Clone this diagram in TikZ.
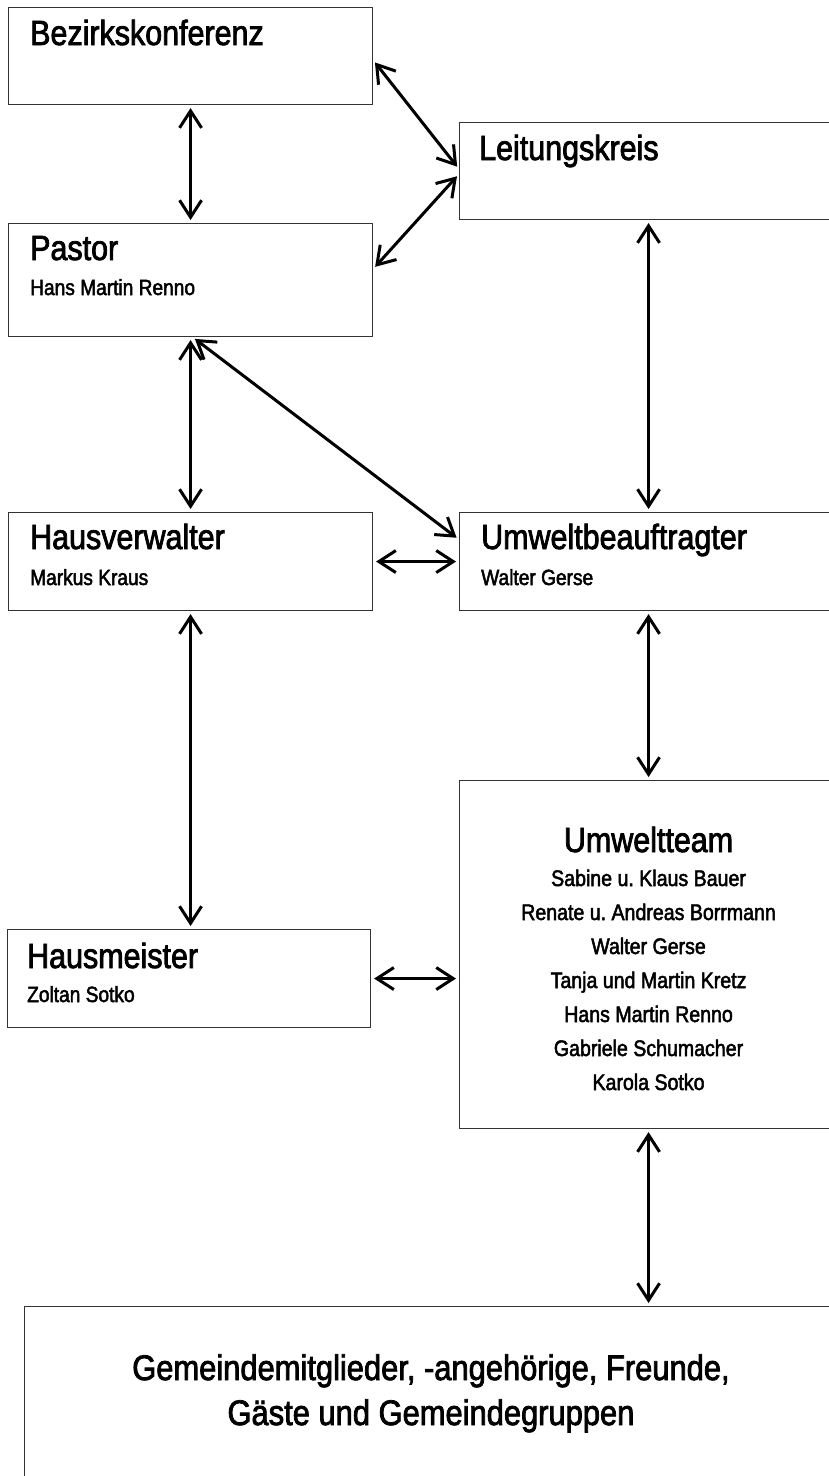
\documentclass[tikz,border=0pt]{standalone}
\usepackage{fontspec}
\setmainfont{Liberation Sans}[FakeStretch=0.87, FakeBold=2.2]
\usepackage{tikz}
\usetikzlibrary{arrows.meta}
\usetikzlibrary{calc}
\frenchspacing

\begin{document}
\begin{tikzpicture}[
            x=1pt, y=-1pt,
            box/.style={draw=black!80, line width=1.1pt, rectangle, anchor=north west, inner sep=0pt},
            title/.style={anchor=base west, inner sep=0pt, font=\fontsize{35}{38}\selectfont},
            person/.style={anchor=base west, inner sep=0pt, font=\fontsize{22}{24}\selectfont},
            member/.style={anchor=base, inner sep=0pt, font=\fontsize{22.5}{24}\selectfont},
            link/.style={{Straight Barb[length=17pt,width=22pt]}-{Straight Barb[length=17pt,width=22pt]},
                line width=3pt, line join=round, shorten <=3pt, shorten >=3pt},
        ]
            \useasboundingbox (0,0) rectangle (829,1476);
            \clip (0,0) rectangle (829,1476);

            % --- Kaesten ---
            \node[box, minimum width=364pt, minimum height=97pt] (bezirk) at (8,7) {};
            \node[box, minimum width=364pt, minimum height=113pt] (pastor) at (8,223) {};
            \node[box, minimum width=378pt, minimum height=97pt] (leitung) at (459,122) {};
            \node[box, minimum width=364pt, minimum height=98pt] (hausv) at (8,512) {};
            \node[box, minimum width=378pt, minimum height=98pt] (umwb) at (459,512) {};
            \node[box, minimum width=363pt, minimum height=98pt] (hausm) at (7,929) {};
            \node[box, minimum width=378pt, minimum height=348pt] (team) at (459,780) {};
            \node[box, minimum width=814pt, minimum height=180pt] (gemeinde) at (24,1306) {};

            % --- Beschriftungen ---
            \node[title] (bezirk-t) at ($(bezirk.north west)+(22,38)$) {Bezirkskonferenz};
            \node[title] (pastor-t) at ($(pastor.north west)+(22,37)$) {Pastor};
            \node[person] (pastor-p) at ($(pastor.north west)+(22,72)$) {Hans Martin Renno};
            \node[title] (leitung-t) at ($(leitung.north west)+(20,38)$) {Leitungskreis};
            \node[title] (hausv-t) at ($(hausv.north west)+(22,37)$) {Hausverwalter};
            \node[person] (hausv-p) at ($(hausv.north west)+(22,73)$) {Markus Kraus};
            \node[title] (umwb-t) at ($(umwb.north west)+(22,37)$) {Umweltbeauftragter};
            \node[person] (umwb-p) at ($(umwb.north west)+(22,73)$) {Walter Gerse};
            \node[title] (hausm-t) at ($(hausm.north west)+(20,39)$) {Hausmeister};
            \node[person] (hausm-p) at ($(hausm.north west)+(20,73)$) {Zoltan Sotko};

            \node[title, anchor=base] (team-t) at ($(team.north)+(0,72)$) {Umweltteam};
            \foreach \name [count=\i from 0] in {Sabine u. Klaus Bauer, Renate u. Andreas Borrmann,
                    Walter Gerse, Tanja und Martin Kretz, Hans Martin Renno,
                    Gabriele Schumacher, Karola Sotko} {
                \node[member] (team-\i) at ($(team.north)+(0,106+34*\i)$) {\name};
            }

            \node[title, anchor=base, font=\fontsize{35.5}{40}\selectfont] (gemeinde-a) at ($(gemeinde.north west)+(407,74)$)
                {Gemeindemitglieder, -angehörige, Freunde,};
            \node[title, anchor=base, font=\fontsize{35.5}{40}\selectfont] (gemeinde-b) at ($(gemeinde.north west)+(407,119)$)
                {Gäste und Gemeindegruppen};

            % --- Verbindungen ---
            \draw[link] (bezirk.south) -- (pastor.north);
            \draw[link] ([yshift=-4pt]bezirk.east) -- ([yshift=2pt]leitung.west);
            \draw[link] ([yshift=-3pt]leitung.west) -- ([yshift=11pt]pastor.east);
            \draw[link] (pastor.south) -- (hausv.north);
            \draw[link] ([xshift=2pt]pastor.south) -- ([yshift=22pt]umwb.west);
            \draw[link] (leitung.south) -- (umwb.north);
            \draw[link] (hausv.east) -- (umwb.west);
            \draw[link] (hausv.south) -- (hausv.south |- hausm.north);
            \draw[link] (umwb.south) -- (team.north);
            \draw[link] (hausm.east) -- (team.west |- hausm.east);
            \draw[link] (team.south) -- (team.south |- gemeinde.north);
        \end{tikzpicture}
\end{document}
